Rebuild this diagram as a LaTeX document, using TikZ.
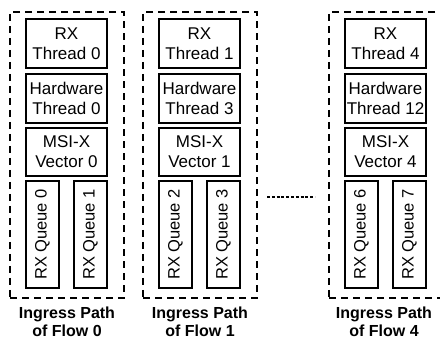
\documentclass[tikz,border=0pt]{standalone}
\usepackage{fontspec}
\setmainfont{Liberation Sans}
\begin{document}
\begin{tikzpicture}[x=1pt,y=-1pt,
  box/.style={draw,line width=1.1pt,inner sep=0pt,align=center,
    font=\fontsize{17}{20}\selectfont,minimum width=81pt,minimum height=49pt},
  qbox/.style={draw,line width=1.1pt,inner sep=0pt,
    minimum width=33pt,minimum height=107pt},
  qtext/.style={rotate=90,font=\fontsize{16.5}{19.5}\selectfont,inner sep=0pt},
  pathbox/.style={draw,line width=1.1pt,dash pattern=on 7pt off 5pt,inner sep=0pt,
    minimum width=114pt,minimum height=286pt},
  lab/.style={align=center,inner sep=0pt,anchor=north,font=\fontsize{16}{18}\selectfont\bfseries}]
\clip (0,0) rectangle (440,339);
\useasboundingbox (0,0) rectangle (440,339);
\foreach \i/\xo/\ta/\tb/\tc/\qa/\qb in {0/10/0/0/0/0/1, 1/143/1/3/1/2/3, 2/329/4/12/4/6/7}{
  \node[pathbox] (path\i) at (\xo+57,155) {};
  \node[box] (th\i) at (\xo+56.5,43.5) {RX\\Thread \ta};
  \node[box] (hw\i) at (\xo+56.5,98.5) {Hardware\\Thread \tb};
  \node[box,minimum height=48pt] (msi\i) at (\xo+56.5,152) {MSI-X\\Vector \tc};
  \node[qbox] (qa\i) at (\xo+32.5,234.5) {};
  \node[qtext] at (qa\i.center) {RX Queue \qa};
  \node[qbox] (qb\i) at (\xo+80.5,234.5) {};
  \node[qtext] at (qb\i.center) {RX Queue \qb};
}
\node[lab] (lab0) at (67,306.5) {Ingress Path\\of Flow 0};
\node[lab] (lab1) at (200,306.5) {Ingress Path\\of Flow 1};
\node[lab] (lab2) at (384,306.5) {Ingress Path\\of Flow 4};
\coordinate (d1) at (267,197);
\coordinate (d2) at (315,197);
\draw[line width=2.6pt,dash pattern=on 3pt off 1.8pt] (d1) -- (d2);
\end{tikzpicture}
\end{document}
